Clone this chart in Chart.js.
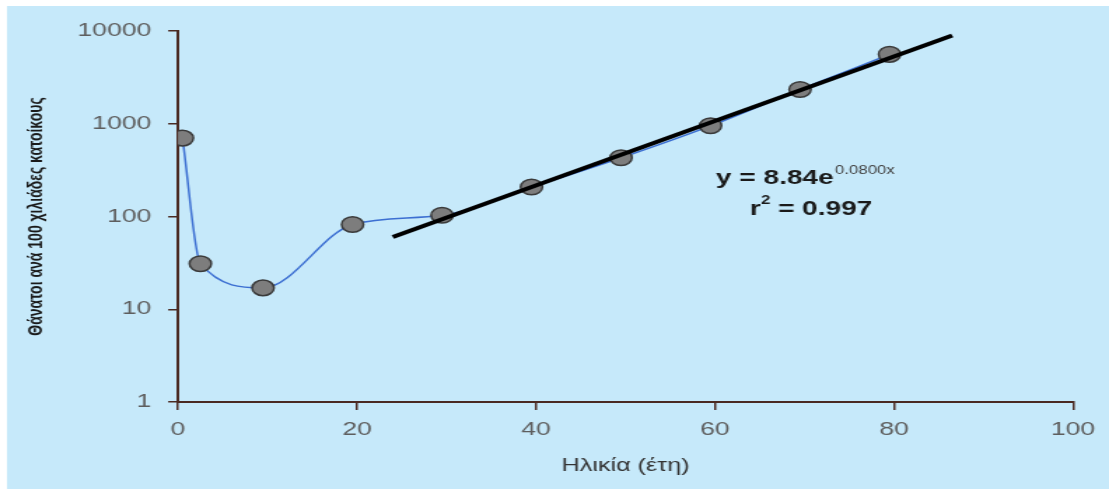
<!DOCTYPE html>
<html>
<head>
<meta charset="utf-8">
<script src="https://cdn.jsdelivr.net/npm/chart.js@4.4.1/dist/chart.umd.min.js"></script>
<style>
  html, body { margin: 0; padding: 0; background: #fff; overflow: hidden; }
  #chart { display: block; }
</style>
</head>
<body>
<canvas id="chart" width="792" height="489" style="width:1109px;height:489px"></canvas>
<script>
// The source picture is stretched sideways, so the chart is drawn narrow and widened by CSS
const STRETCH = 1109 / 792;

// Data
const ages = [0.5, 2.5, 9.5, 19.5, 29.5, 39.5, 49.5, 59.5, 69.5, 79.5];
const deaths = [700, 31, 17, 82, 103, 208, 430, 950, 2340, 5600];

const trendAges = [24, 86.5];
const trendDeaths = [60, 8950];

const yTicks = [1, 10, 100, 1000, 10000];
const xTicks = [0, 20, 40, 60, 80, 100];

const COLORS = {
  bg: '#c6e9fa',
  axis: '#4a2a22',
  tickText: '#5e5e5e',
  title: '#333333',
  line: '#3c6fd2',
  point: '#7d7d7d',
  pointBorder: '#3a3a3a',
  trend: '#000000',
};

const px = (v) => v / STRETCH;

const background = {
  id: 'background',
  beforeDraw(chart) {
    const { ctx, width, height } = chart;
    ctx.save();
    ctx.fillStyle = '#ffffff';
    ctx.fillRect(0, 0, width, height);
    ctx.fillStyle = COLORS.bg;
    ctx.fillRect(px(7), 6, width, height);
    ctx.restore();
  }
};

// fit equation
const equation = {
  id: 'equation',
  afterDraw(chart) {
    const { ctx } = chart;
    ctx.save();
    ctx.fillStyle = '#1a1a1a';
    ctx.textBaseline = 'alphabetic';
    ctx.textAlign = 'left';

    let x = px(716);
    ctx.font = 'bold 20px "Liberation Sans", Arial, sans-serif';
    ctx.fillText('y = 8.84e', x, 184);
    x += ctx.measureText('y = 8.84e').width + 1;
    ctx.font = '12px "Liberation Sans", Arial, sans-serif';
    ctx.fillStyle = '#444';
    ctx.fillText('0.0800x', x, 174);

    ctx.fillStyle = '#1a1a1a';
    x = px(750);
    ctx.font = 'bold 20px "Liberation Sans", Arial, sans-serif';
    ctx.fillText('r', x, 215);
    x += ctx.measureText('r').width;
    ctx.font = 'bold 12px "Liberation Sans", Arial, sans-serif';
    ctx.fillText('2', x, 204);
    x += ctx.measureText('2').width;
    ctx.font = 'bold 20px "Liberation Sans", Arial, sans-serif';
    ctx.fillText(' = 0.997', x, 215);
    ctx.restore();
  }
};

new Chart(document.getElementById('chart'), {
  type: 'scatter',
  data: {
    datasets: [
      {
        label: 'trend',
        data: trendAges.map((a, i) => ({ x: a, y: trendDeaths[i] })),
        showLine: true,
        borderColor: COLORS.trend,
        borderWidth: 4,
        pointRadius: 0,
        fill: false,
      },
      {
        label: 'deaths',
        data: ages.map((a, i) => ({ x: a, y: deaths[i] })),
        showLine: true,
        borderColor: COLORS.line,
        borderWidth: 1.5,
        cubicInterpolationMode: 'monotone',
        pointRadius: 7.8,
        pointBackgroundColor: COLORS.point,
        pointBorderColor: COLORS.pointBorder,
        pointBorderWidth: 1.5,
        fill: false,
      }
    ]
  },
  options: {
    responsive: false,
    animation: false,
    devicePixelRatio: 1,
    layout: { padding: { top: 31, right: 792 - px(1073), bottom: 0, left: 0 } },
    scales: {
      x: {
        type: 'linear',
        min: 0,
        max: 100,
        afterFit: (scale) => { scale.height = 87; },
        afterBuildTicks: (scale) => { scale.ticks = xTicks.map(v => ({ value: v })); },
        grid: { drawOnChartArea: false, drawTicks: true, tickLength: 8, color: COLORS.axis, lineWidth: 1.5 },
        border: { display: true, color: COLORS.axis, width: 2 },
        ticks: {
          color: COLORS.tickText,
          padding: 8,
          maxRotation: 0,
          font: { family: '"Liberation Sans", Arial, sans-serif', size: 19 },
        },
        title: {
          display: true,
          text: 'Ηλικία (έτη)',
          color: COLORS.title,
          padding: { top: 0, bottom: 12 },
          font: { family: '"Liberation Sans", Arial, sans-serif', size: 18 },
        }
      },
      y: {
        type: 'logarithmic',
        min: 1,
        max: 10000,
        afterFit: (scale) => { scale.width = px(178); },
        afterBuildTicks: (scale) => { scale.ticks = yTicks.map(v => ({ value: v })); },
        grid: { drawOnChartArea: false, drawTicks: true, tickLength: 7, color: COLORS.axis, lineWidth: 1.5 },
        border: { display: true, color: COLORS.axis, width: 2 },
        ticks: {
          color: COLORS.tickText,
          padding: 12,
          font: { family: '"Liberation Sans", Arial, sans-serif', size: 19 },
          callback: (v) => String(v),
        },
        title: {
          display: true,
          text: 'Θάνατοι ανά 100 χιλιάδες κατοίκους',
          color: '#1a1a1a',
          padding: { top: 18, bottom: 0 },
          font: { family: '"Liberation Sans Narrow", "Liberation Sans", Arial, sans-serif', size: 14, weight: 'bold' },
        }
      }
    },
    plugins: {
      legend: { display: false },
      tooltip: { enabled: false },
    }
  },
  plugins: [background, equation]
});
</script>
</body>
</html>
